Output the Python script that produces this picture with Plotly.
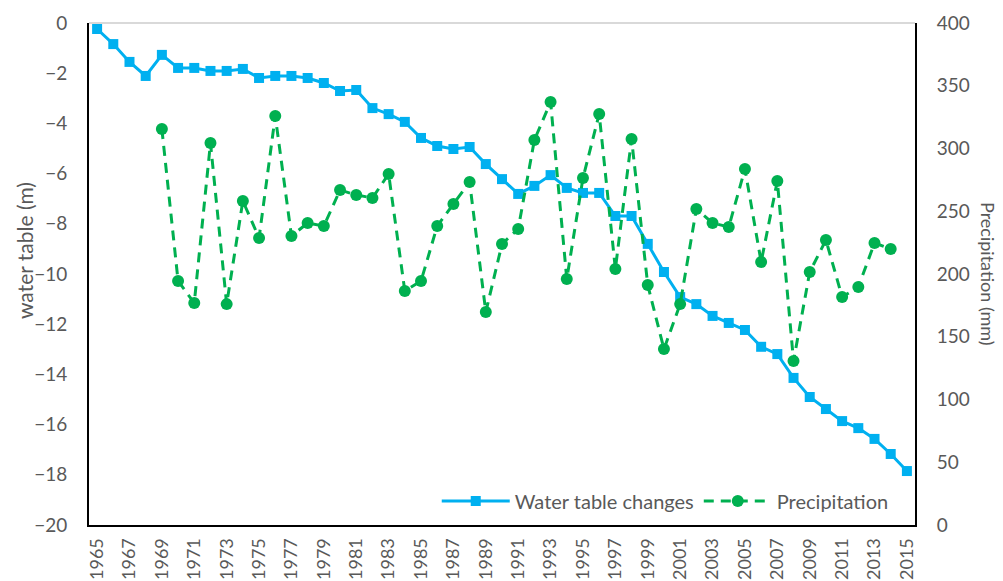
import plotly.graph_objects as go

years = [str(y) for y in range(1965, 2016)]

water_table = [-0.24, -0.84, -1.55, -2.11, -1.27, -1.79, -1.79, -1.91, -1.91, -1.83,
               -2.19, -2.11, -2.11, -2.19, -2.39, -2.71, -2.67, -3.39, -3.63, -3.94,
               -4.58, -4.90, -5.02, -4.94, -5.62, -6.22, -6.81, -6.49, -6.06, -6.57,
               -6.77, -6.77, -7.69, -7.69, -8.80, -9.92, -10.92, -11.20, -11.67, -11.95,
               -12.23, -12.90, -13.19, -14.14, -14.90, -15.38, -15.86, -16.14, -16.57, -17.17,
               -17.85]

precip = [None, None, None, None, 315.5, 194.4, 176.9, 304.4, 176.0, 258.2,
          228.7, 325.9, 230.3, 240.6, 238.2, 266.9, 263.0, 260.6, 279.7, 186.5,
          194.4, 238.2, 255.8, 273.3, 169.7, 223.9, 235.9, 306.8, 337.0, 196.0,
          276.5, 327.5, 204.0, 307.6, 191.2, 140.2, 176.0, 251.8, 240.6, 237.5,
          283.7, 209.6, 274.1, 130.7, 201.6, 227.1, 181.7, 189.6, 224.7, 219.9,
          None]

BLUE = "#00B0F0"
GREEN = "#00B050"
GRAY = "#595959"
FONT = "Lato, 'Open Sans', sans-serif"

fig = go.Figure()
fig.add_trace(go.Scatter(
    x=years, y=water_table, name="Water table changes", mode="lines+markers",
    line=dict(color=BLUE, width=3), marker=dict(symbol="square", size=10, color=BLUE),
    yaxis="y"))
fig.add_trace(go.Scatter(
    x=years, y=precip, name="Precipitation", mode="lines+markers",
    line=dict(color=GREEN, width=3, dash="10px,7px"), marker=dict(symbol="circle", size=12, color=GREEN),
    connectgaps=False, yaxis="y2"))

fig.update_layout(
    width=995, height=573,
    margin=dict(l=81, r=88, t=15, b=56),
    paper_bgcolor="white", plot_bgcolor="white",
    font=dict(family=FONT, color=GRAY, size=16),
    showlegend=True,
    legend=dict(orientation="h", x=0.421, y=0.048, xanchor="left", yanchor="middle",
                bgcolor="rgba(0,0,0,0)", font=dict(size=20, color=GRAY),
                itemwidth=68, tracegroupgap=0),
    xaxis=dict(type="category", range=[-0.5, 50.5], tickangle=-90, automargin=False,
               tickfont=dict(size=18, color=GRAY), showgrid=False,
               showline=True, linecolor="black", linewidth=2, ticks="",
               tickmode="array", tickvals=years[::2], ticklabelstandoff=4),
    yaxis=dict(range=[-20, 0], dtick=2, showgrid=False, zeroline=False, automargin=False,
               showline=True, linecolor="black", linewidth=2, ticks="",
               tickfont=dict(size=19, color=GRAY), ticklabelstandoff=16),
    yaxis2=dict(range=[0, 400], dtick=50, overlaying="y", side="right", showgrid=False,
                zeroline=False, showline=True, linecolor="black", linewidth=2, ticks="",
                automargin=False,
                tickfont=dict(size=19, color=GRAY), ticklabelstandoff=16),
)

fig.add_shape(type="line", xref="paper", yref="paper", x0=0, x1=1, y0=1, y1=1,
              line=dict(color="#D9D9D9", width=2), layer="below")

fig.add_annotation(text="water table (m)", xref="paper", yref="paper",
                   x=(24 - 89) / 826, y=(525 - 251) / 502,
                   xanchor="center", yanchor="middle", textangle=-90,
                   showarrow=False, font=dict(size=21, color=GRAY, family=FONT))
fig.add_annotation(text="Precipitation (mm)", xref="paper", yref="paper",
                   x=(988 - 89) / 826, y=0.5,
                   xanchor="center", yanchor="middle", textangle=90,
                   showarrow=False, font=dict(size=18, color=GRAY, family=FONT))

fig.write_html("out.html")
